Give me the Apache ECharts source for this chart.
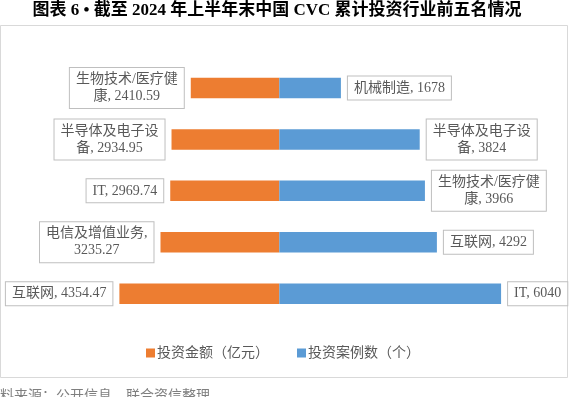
<!DOCTYPE html>
<html>
<head>
<meta charset="utf-8">
<script src="https://cdn.jsdelivr.net/npm/echarts@6/dist/echarts.min.js"></script>
<style>
html,body{margin:0;padding:0;background:#fff;}
#chart{width:571px;height:397px;}
</style>
</head>
<body>
<div id="chart"></div>
<script>
// ---- data ----
var titleText = '图表 6 • 截至 2024 年上半年末中国 CVC 累计投资行业前五名情况';
var sourceText = '资料来源：公开信息，联合资信整理';
var seriesNames = ['投资金额（亿元）', '投资案例数（个）'];
var ranks = ['1', '2', '3', '4', '5'];
var amountNames = ['生物技术/医疗健康', '半导体及电子设备', 'IT', '电信及增值业务', '互联网'];
var amountValues = [2410.59, 2934.95, 2969.74, 3235.27, 4354.47];
var countNames = ['机械制造', '半导体及电子设备', '生物技术/医疗健康', '互联网', 'IT'];
var countValues = [1678, 3824, 3966, 4292, 6040];

// ---- styling ----
var FONT = '"Liberation Serif", "Noto Sans CJK SC", serif';
var LABEL_SIZE = 14;
var TEXT_COLOR = '#595959';
var ORANGE = '#ED7D31';
var BLUE = '#5B9BD5';

var measureCtx = document.createElement('canvas').getContext('2d');
measureCtx.font = LABEL_SIZE + 'px ' + FONT;
function wrap(text, maxW) {
  var tokens = text.match(/[A-Za-z0-9.]+,?|\s+|./g) || [];
  var lines = [], cur = '';
  tokens.forEach(function (t) {
    if (cur === '' && /^\s+$/.test(t)) return;
    if (cur !== '' && measureCtx.measureText(cur + t).width > maxW) {
      lines.push(cur.replace(/\s+$/, ''));
      cur = /^\s+$/.test(t) ? '' : t;
    } else {
      cur += t;
    }
  });
  if (cur) lines.push(cur);
  return lines.map(function (l) { return '{c|' + l + '}'; }).join('\n');
}

var labelBase = {
  show: true,
  distance: 7,
  backgroundColor: '#fff',
  borderColor: '#bfbfbf',
  borderWidth: 1,
  padding: [3, 6, 3, 6],
  color: TEXT_COLOR,
  fontSize: LABEL_SIZE,
  fontFamily: FONT,
  lineHeight: 17,
  rich: {
    c: { align: 'center', fontSize: LABEL_SIZE, fontFamily: FONT, color: TEXT_COLOR, lineHeight: 17 }
  }
};

var chart = echarts.init(document.getElementById('chart'), null, { renderer: 'canvas' });
chart.setOption({
  animation: false,
  backgroundColor: '#fff',
  grid: { left: 0, right: 0, top: 62.3, bottom: 77.6 },
  xAxis: {
    type: 'value', min: -7606, max: 7944,
    show: false
  },
  yAxis: {
    type: 'category', data: ranks, inverse: true, show: false
  },
  legend: {
    data: seriesNames,
    left: 141, top: 341,
    icon: 'rect', itemWidth: 9, itemHeight: 9, itemGap: 28,
    textStyle: { color: TEXT_COLOR, fontSize: 14, fontFamily: FONT, padding: [0, 0, 0, -3] }
  },
  graphic: [
    {
      type: 'rect', silent: true,
      shape: { x: 0.5, y: 25.5, width: 567, height: 352 },
      style: { fill: 'none', stroke: '#d9d9d9', lineWidth: 1 }
    },
    {
      type: 'text', silent: true, x: 277, y: 2,
      style: { text: titleText, fill: '#000', font: 'bold 17px ' + FONT, textAlign: 'center', textVerticalAlign: 'top' }
    },
    {
      type: 'text', silent: true, x: -14, y: 389,
      style: { text: sourceText, fill: '#7f7f7f', font: '14px ' + FONT, textAlign: 'left', textVerticalAlign: 'top' }
    }
  ],
  series: [
    {
      name: seriesNames[0], type: 'bar', barWidth: 20.5, barGap: '-100%',
      itemStyle: { color: ORANGE },
      data: amountValues.map(function (v) { return -v; }),
      label: Object.assign({}, labelBase, {
        position: 'left',
        formatter: function (p) { return wrap(amountNames[p.dataIndex] + ', ' + amountValues[p.dataIndex], 104); }
      })
    },
    {
      name: seriesNames[1], type: 'bar', barWidth: 20.5,
      itemStyle: { color: BLUE },
      data: countValues,
      label: Object.assign({}, labelBase, {
        position: 'right',
        formatter: function (p) { return wrap(countNames[p.dataIndex] + ', ' + countValues[p.dataIndex], 104); }
      })
    }
  ]
});
</script>
</body>
</html>
